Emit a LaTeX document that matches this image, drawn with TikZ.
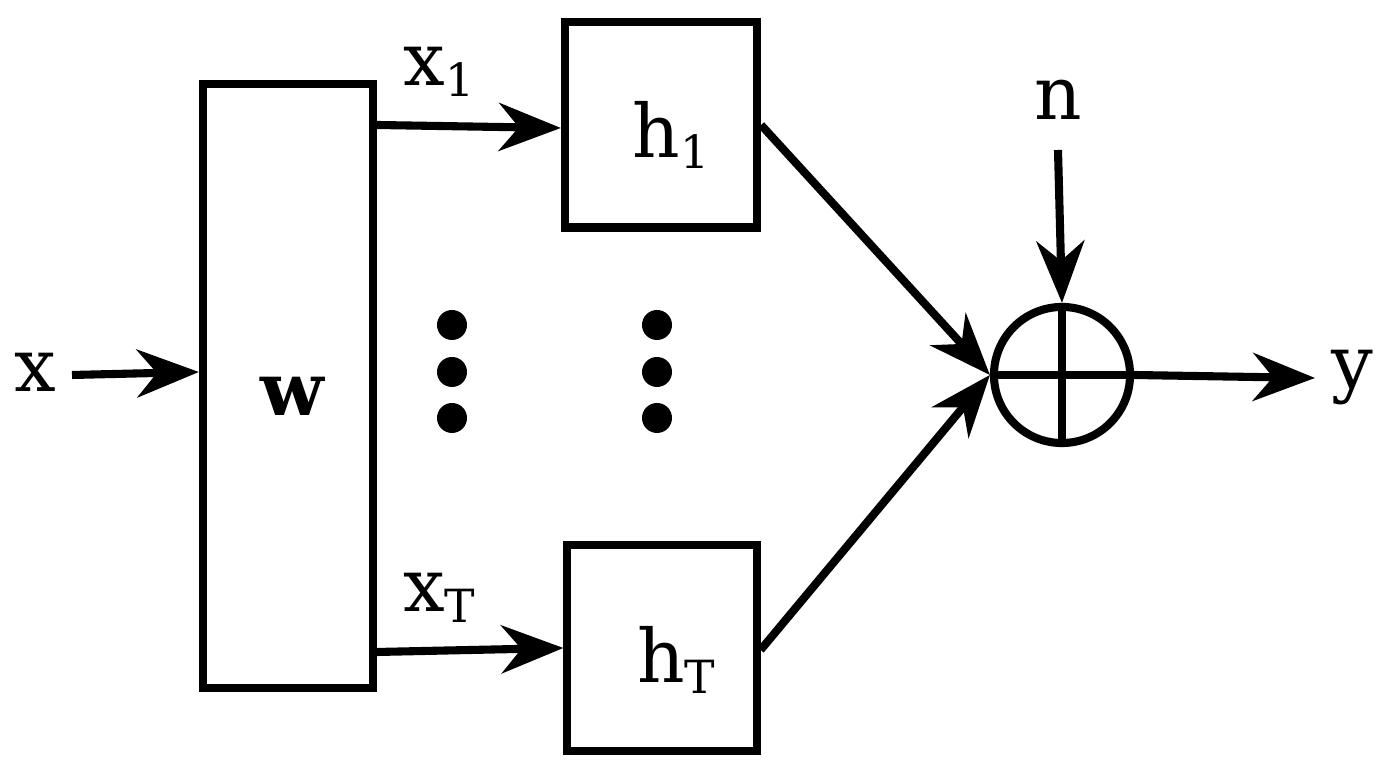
\documentclass[tikz,border=0pt]{standalone}
\usepackage{fontspec}
\setmainfont{DejaVu Serif}
\usetikzlibrary{arrows.meta}
\begin{document}
\begin{tikzpicture}[x=0.01cm,y=-0.01cm,
  box/.style={draw,line width=2.3pt,inner sep=0pt},
  lab/.style={font=\fontsize{21}{24}\selectfont,inner sep=0pt},
  arr/.style={line width=2.3pt,-{Stealth[length=0.62cm,width=0.48cm,inset=0.2cm]}},
  dot/.style={circle,fill,inner sep=0pt,minimum size=0.3cm}]
\useasboundingbox (0,0) rectangle (1390,771);
\node[box,minimum width=1.7cm,minimum height=6.03cm] (W) at (288,386) {};
\node[lab] at (292,396) {$\mathbf{w}$};
\node[box,minimum width=1.92cm,minimum height=2.05cm] (h1) at (661,125) {};
\node[lab] at (672,135) {h\textsubscript{\fontsize{13}{14}\selectfont 1}};
\node[box,minimum width=1.89cm,minimum height=2.05cm] (hT) at (662,648) {};
\node[lab] at (677,660) {h\textsubscript{\fontsize{13}{14}\selectfont T}};
\node[draw,circle,line width=2.3pt,minimum size=1.36cm,inner sep=0pt] (S) at (1062,375) {};
\draw[line width=2.3pt] (S.north) -- (S.south) (S.west) -- (S.east);
\node[lab] (x) at (35,372) {x};
\node[lab] (x1) at (440,72) {x\textsubscript{\fontsize{13}{14}\selectfont 1}};
\node[lab] (xT) at (440,598) {x\textsubscript{\fontsize{13}{14}\selectfont T}};
\node[lab] (n) at (1058,100) {n};
\node[lab] (y) at (1352,378) {y};
\coordinate (xs) at (72,375);
\coordinate (ns) at (1058,150);
\draw[arr] (xs) -- (W.west |- 0,372);
\draw[arr] (W.east |- 0,125) -- (h1.west |- 0,128);
\draw[arr] (W.east |- 0,652) -- (hT.west |- 0,648);
\draw[arr] (h1.east |- 0,125) -- (S.west);
\draw[arr] (hT.east |- 0,650) -- (S.west);
\draw[arr] (ns) -- (S.north);
\draw[arr] (S.east) -- (1315,378) coordinate (ye);
\foreach \xx in {452,657}\foreach \yy in {325,372,418}
  \node[dot] at (\xx,\yy) {};
\end{tikzpicture}
\end{document}
